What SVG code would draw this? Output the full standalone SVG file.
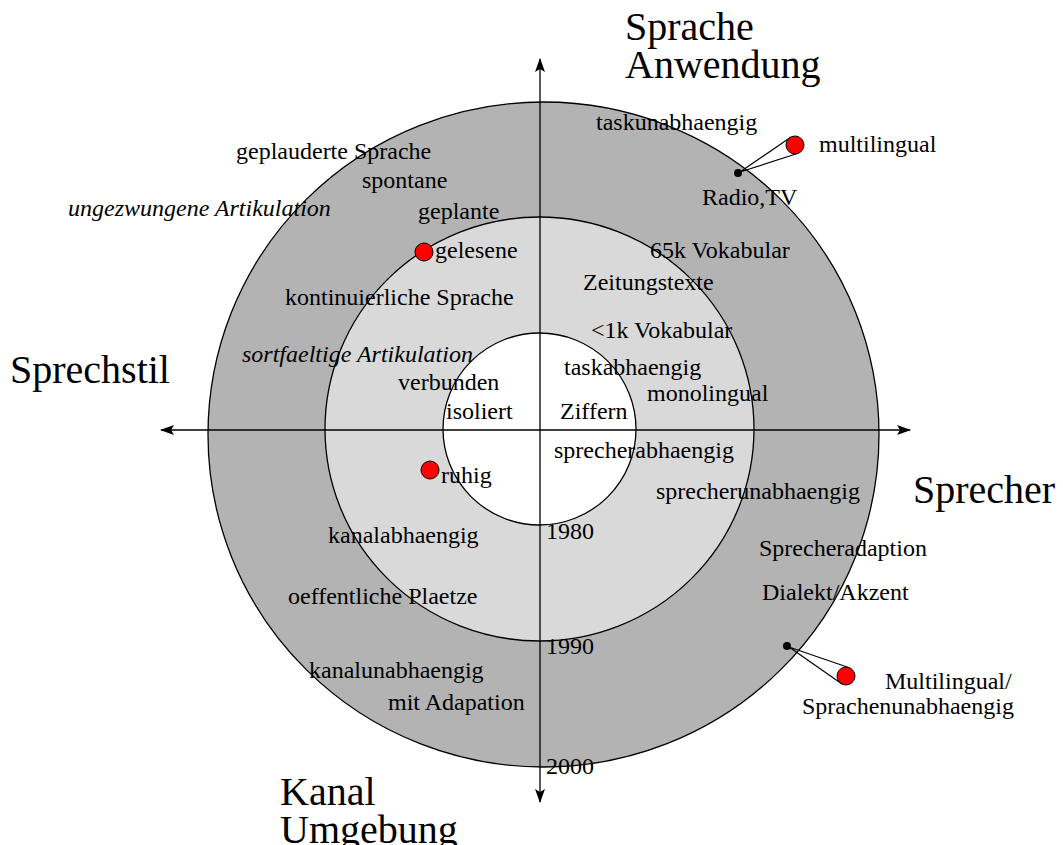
<svg xmlns="http://www.w3.org/2000/svg" width="1063" height="845" viewBox="0 0 1063 845">
<defs>
<style>
text{font-family:"Liberation Serif","Times New Roman",serif;fill:#000}
.s{font-size:24px}
.i{font-size:24px;font-style:italic}
.b{font-size:40px}
.ax{stroke:#000;stroke-width:1.3;fill:none}
.red{fill:#ff0000;stroke:#000;stroke-width:1}
.cone{stroke:#000;stroke-width:1.2;fill:none}
</style>
<marker id="ah" viewBox="0 0 14 10" refX="13" refY="5" markerWidth="14" markerHeight="10" markerUnits="userSpaceOnUse" orient="auto">
<path d="M0,0 L14,5 L0,10 L3,5 Z" fill="#000"/>
</marker>
</defs>
<rect width="1063" height="845" fill="#fff"/>
<g id="rings">
<ellipse cx="543.5" cy="434.5" rx="335.5" ry="332.5" fill="#b3b3b3" stroke="#000" stroke-width="1.3"/>
<ellipse cx="539.5" cy="429" rx="214.5" ry="212" fill="#d9d9d9" stroke="#000" stroke-width="1.3"/>
<ellipse cx="539.5" cy="429" rx="96.5" ry="96" fill="#fff" stroke="#000" stroke-width="1.3"/>
</g>
<g id="connectors">
<line class="ax" x1="540" y1="430" x2="540" y2="59" marker-end="url(#ah)"/>
<line class="ax" x1="540" y1="430" x2="540" y2="802" marker-end="url(#ah)"/>
<line class="ax" x1="540" y1="430" x2="161" y2="430" marker-end="url(#ah)"/>
<line class="ax" x1="540" y1="430" x2="910" y2="430" marker-end="url(#ah)"/>
<polyline class="cone" points="791,137 740,172 799,153"/>
<polyline class="cone" points="850,668 789,647 842,684"/>
</g>
<g id="markers">
<circle cx="738" cy="173" r="4" fill="#000"/>
<circle class="red" cx="795" cy="145" r="9"/>
<circle cx="787" cy="646" r="4" fill="#000"/>
<circle class="red" cx="846" cy="676" r="9"/>
<circle class="red" cx="424" cy="252" r="9"/>
<circle class="red" cx="430" cy="470" r="9"/>
</g>
<g id="axis-labels">
<text class="b" x="625" y="40">Sprache</text>
<text class="b" x="625" y="78">Anwendung</text>
<text class="b" x="10" y="383">Sprechstil</text>
<text class="b" x="913" y="503">Sprecher</text>
<text class="b" x="280" y="805">Kanal</text>
<text class="b" x="280" y="843">Umgebung</text>
</g>
<g id="labels">
<text class="s" x="596" y="130">taskunabhaengig</text>
<text class="s" x="819" y="152">multilingual</text>
<text class="s" x="702" y="205">Radio,TV</text>
<text class="s" x="236" y="159">geplauderte Sprache</text>
<text class="s" x="362" y="188">spontane</text>
<text class="i" x="68" y="216">ungezwungene Artikulation</text>
<text class="s" x="418" y="219">geplante</text>
<text class="s" x="435" y="258">gelesene</text>
<text class="s" x="650" y="258">65k Vokabular</text>
<text class="s" x="583" y="290">Zeitungstexte</text>
<text class="s" x="285" y="305">kontinuierliche Sprache</text>
<text class="s" x="591" y="338">&lt;1k Vokabular</text>
<text class="i" x="242" y="362">sortfaeltige Artikulation</text>
<text class="s" x="564" y="375">taskabhaengig</text>
<text class="s" x="398" y="390">verbunden</text>
<text class="s" x="647" y="401">monolingual</text>
<text class="s" x="446" y="419">isoliert</text>
<text class="s" x="560" y="419">Ziffern</text>
<text class="s" x="554" y="458">sprecherabhaengig</text>
<text class="s" x="441" y="483">ruhig</text>
<text class="s" x="656" y="499">sprecherunabhaengig</text>
<text class="s" x="546" y="539">1980</text>
<text class="s" x="328" y="543">kanalabhaengig</text>
<text class="s" x="759" y="556">Sprecheradaption</text>
<text class="s" x="762" y="600">Dialekt/Akzent</text>
<text class="s" x="288" y="604">oeffentliche Plaetze</text>
<text class="s" x="546" y="654">1990</text>
<text class="s" x="309" y="678">kanalunabhaengig</text>
<text class="s" x="885" y="689">Multilingual/</text>
<text class="s" x="388" y="710">mit Adapation</text>
<text class="s" x="802" y="714">Sprachenunabhaengig</text>
<text class="s" x="546" y="774">2000</text>
</g>
</svg>
